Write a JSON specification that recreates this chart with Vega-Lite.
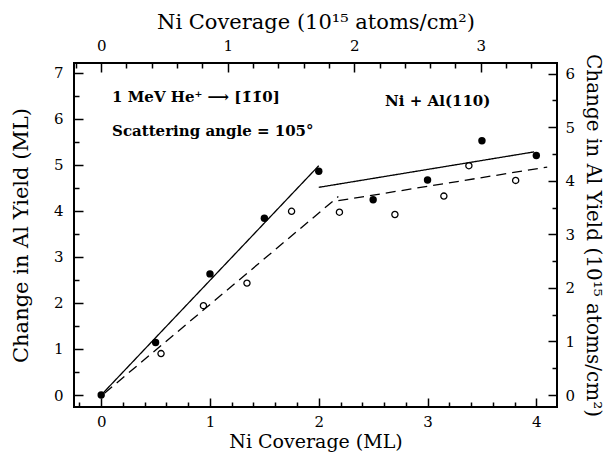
{
  "$schema": "https://vega.github.io/schema/vega-lite/v6.json",
  "width": 483,
  "height": 344,
  "autosize": {"type": "none"},
  "padding": {"left": 74, "top": 63, "right": 51, "bottom": 49},
  "background": "white",
  "config": {
    "view": {"stroke": "black", "strokeWidth": 2},
    "axis": {
      "domain": false,
      "grid": false,
      "tickColor": "black",
      "tickWidth": 1.5,
      "labelFont": "DejaVu Serif",
      "labelFontSize": 15,
      "labelColor": "black",
      "titleFont": "DejaVu Serif",
      "titleFontSize": 20,
      "titleFontWeight": "normal",
      "titleColor": "black",
      "labelFlush": false,
      "labelOverlap": false
    }
  },
  "resolve": {"axis": {"x": "independent", "y": "independent"}},
  "layer": [
    {
      "data": {"values": [
        {"x": 0, "y": 0, "seg": "s1", "style": "solid"},
        {"x": 2.0, "y": 4.98, "seg": "s1", "style": "solid"},
        {"x": 2.0, "y": 4.51, "seg": "s2", "style": "solid"},
        {"x": 3.98, "y": 5.28, "seg": "s2", "style": "solid"},
        {"x": 0.03, "y": 0.04, "seg": "d1", "style": "dashed"},
        {"x": 2.18, "y": 4.31, "seg": "d1", "style": "dashed"},
        {"x": 2.18, "y": 4.22, "seg": "d2", "style": "dashed"},
        {"x": 4.1, "y": 4.95, "seg": "d2", "style": "dashed"}
      ]},
      "mark": {"type": "line", "color": "black", "strokeWidth": 1.3},
      "encoding": {
        "x": {"field": "x", "type": "quantitative", "scale": {"domain": [-0.25, 4.19], "nice": false, "zero": false},
          "axis": {"orient": "bottom", "values": [0, 1, 2, 3, 4], "format": "d", "tickSize": -9, "labelPadding": 16, "title": "Ni Coverage (ML)", "titleFontSize": 19, "titlePadding": 3}},
        "y": {"field": "y", "type": "quantitative", "scale": {"domain": [-0.26, 7.21], "nice": false, "zero": false},
          "axis": {"orient": "left", "values": [0, 1, 2, 3, 4, 5, 6, 7], "format": "d", "tickSize": -9, "labelPadding": 20, "title": "Change in Al Yield (ML)", "titleFontSize": 21, "titlePadding": 22}},
        "detail": {"field": "seg"},
        "strokeDash": {"field": "style", "type": "nominal", "scale": {"domain": ["solid", "dashed"], "range": [[1, 0], [10, 6]]}, "legend": null}
      }
    },
    {
      "data": {"values": [
        {"x": 0, "y": 0},
        {"x": 0.5, "y": 1.14},
        {"x": 1.0, "y": 2.63},
        {"x": 1.5, "y": 3.84},
        {"x": 2.0, "y": 4.86},
        {"x": 2.5, "y": 4.24},
        {"x": 3.0, "y": 4.67},
        {"x": 3.5, "y": 5.52},
        {"x": 4.0, "y": 5.2}
      ]},
      "mark": {"type": "point", "shape": "circle", "filled": true, "color": "black", "size": 55, "opacity": 1},
      "encoding": {
        "x": {"field": "x", "type": "quantitative", "scale": {"domain": [-0.25, 4.19], "nice": false, "zero": false},
          "axis": {"orient": "bottom", "values": [-0.2, 0.2, 0.4, 0.6, 0.8, 1.2, 1.4, 1.6, 1.8, 2.2, 2.4, 2.6, 2.8, 3.2, 3.4, 3.6, 3.8], "labels": false, "tickSize": -5, "title": null}},
        "y": {"field": "y", "type": "quantitative", "scale": {"domain": [-0.26, 7.21], "nice": false, "zero": false},
          "axis": {"orient": "left", "values": [0.5, 1.5, 2.5, 3.5, 4.5, 5.5, 6.5], "labels": false, "tickSize": -5, "title": null}}
      }
    },
    {
      "data": {"values": [
        {"x": 0.55, "y": 0.9},
        {"x": 0.94, "y": 1.94},
        {"x": 1.34, "y": 2.43},
        {"x": 1.75, "y": 3.99},
        {"x": 2.19, "y": 3.97},
        {"x": 2.7, "y": 3.92},
        {"x": 3.15, "y": 4.32},
        {"x": 3.38, "y": 4.98},
        {"x": 3.81, "y": 4.66}
      ]},
      "mark": {"type": "point", "shape": "circle", "filled": false, "color": "black", "size": 38, "strokeWidth": 1.3, "opacity": 1},
      "encoding": {
        "x": {"field": "x", "type": "quantitative", "scale": {"domain": [-0.25, 4.19], "nice": false, "zero": false},
          "axis": {"orient": "top", "values": [0, 1.163, 2.326, 3.489], "labelExpr": "format(datum.value / 1.163, '.0f')", "tickSize": -9, "labelPadding": 19, "title": "Ni Coverage (10¹⁵ atoms/cm²)", "titleFontSize": 21, "titlePadding": 6}},
        "y": {"field": "y", "type": "quantitative", "scale": {"domain": [-0.26, 7.21], "nice": false, "zero": false},
          "axis": {"orient": "right", "values": [0, 1.163, 2.326, 3.489, 4.652, 5.815, 6.978], "labelExpr": "format(datum.value / 1.163, '.0f')", "tickSize": -9, "labelPadding": 17, "title": "Change in Al Yield (10¹⁵ atoms/cm²)", "titleFontSize": 20, "titlePadding": 8}}
      }
    },
    {
      "data": {"values": [
        {"x": 0.1, "y": 6.47, "label": "1 MeV He⁺ ⟶ [1̄1̄0]"},
        {"x": 0.1, "y": 5.74, "label": "Scattering angle = 105°"},
        {"x": 2.61, "y": 6.39, "label": "Ni + Al(110)"}
      ]},
      "mark": {"type": "text", "align": "left", "baseline": "middle", "font": "DejaVu Serif", "fontSize": 15, "fontWeight": "bold", "color": "black"},
      "encoding": {
        "x": {"field": "x", "type": "quantitative", "scale": {"domain": [-0.25, 4.19], "nice": false, "zero": false},
          "axis": {"orient": "top", "values": [-0.2326, 0.2326, 0.4652, 0.6978, 0.9304, 1.3956, 1.6282, 1.8608, 2.0934, 2.5586, 2.7912, 3.0238, 3.2564, 3.7216, 3.9542], "labels": false, "tickSize": -5, "title": null}},
        "y": {"field": "y", "type": "quantitative", "scale": {"domain": [-0.26, 7.21], "nice": false, "zero": false},
          "axis": {"orient": "right", "values": [0.5815, 1.7445, 2.9075, 4.0705, 5.2335, 6.3965], "labels": false, "tickSize": -5, "title": null}},
        "text": {"field": "label"}
      }
    }
  ]
}
